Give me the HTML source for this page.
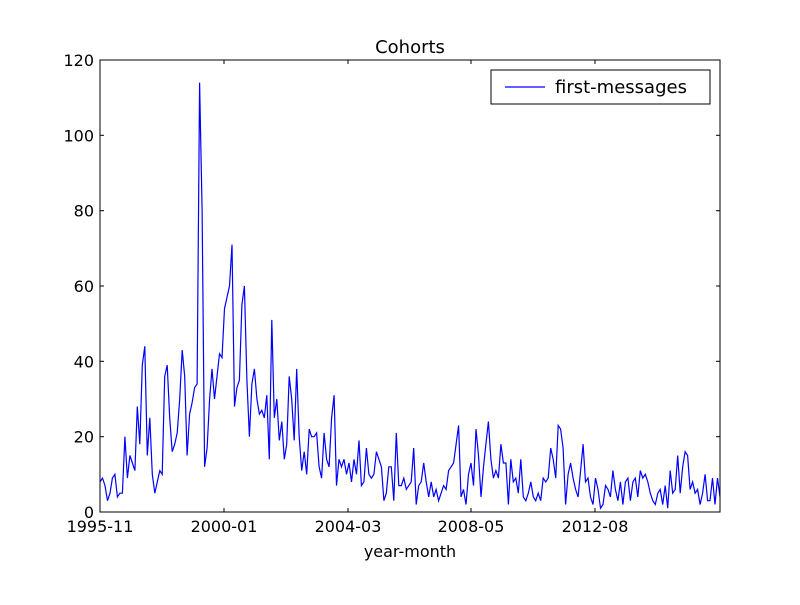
<!DOCTYPE html>
<html><head><meta charset="utf-8"><style>
body{margin:0;background:#fff}
svg text{font-family:"DejaVu Sans","Liberation Sans",sans-serif;fill:#000}
</style></head><body>
<svg id="s" width="800" height="600" xmlns="http://www.w3.org/2000/svg">
<rect x="0" y="0" width="800" height="600" fill="#fff"/>
<polyline id="p" fill="none" stroke="#0000ff" stroke-width="1.2" points=""/>
<rect x="100" y="60" width="620" height="452" fill="none" stroke="#000" stroke-width="1"/>
<g stroke="#000" stroke-width="1">
<line x1="100" y1="512" x2="104" y2="512"/><line x1="716" y1="512" x2="720" y2="512"/>
<line x1="100" y1="436.7" x2="104" y2="436.7"/><line x1="716" y1="436.7" x2="720" y2="436.7"/>
<line x1="100" y1="361.3" x2="104" y2="361.3"/><line x1="716" y1="361.3" x2="720" y2="361.3"/>
<line x1="100" y1="286" x2="104" y2="286"/><line x1="716" y1="286" x2="720" y2="286"/>
<line x1="100" y1="210.7" x2="104" y2="210.7"/><line x1="716" y1="210.7" x2="720" y2="210.7"/>
<line x1="100" y1="135.3" x2="104" y2="135.3"/><line x1="716" y1="135.3" x2="720" y2="135.3"/>
<line x1="224" y1="512" x2="224" y2="508"/><line x1="224" y1="60" x2="224" y2="64"/>
<line x1="348" y1="512" x2="348" y2="508"/><line x1="348" y1="60" x2="348" y2="64"/>
<line x1="471" y1="512" x2="471" y2="508"/><line x1="471" y1="60" x2="471" y2="64"/>
<line x1="595" y1="512" x2="595" y2="508"/><line x1="595" y1="60" x2="595" y2="64"/>
</g>
<g font-size="16" text-anchor="end">
<text x="94" y="518">0</text><text x="94" y="442.7">20</text><text x="94" y="367.3">40</text>
<text x="94" y="292">60</text><text x="94" y="216.7">80</text><text x="94" y="141.3">100</text><text x="94" y="66">120</text>
</g>
<g font-size="16" text-anchor="middle">
<text x="100" y="532">1995-11</text><text x="224" y="532">2000-01</text><text x="348" y="532">2004-03</text>
<text x="471" y="532">2008-05</text><text x="595" y="532">2012-08</text>
<text x="410" y="557">year-month</text>
</g>
<text x="410" y="53" font-size="18" text-anchor="middle">Cohorts</text>
<rect x="491" y="70" width="219" height="34" fill="#fff" stroke="#000"/>
<line x1="505" y1="87" x2="545" y2="87" stroke="#0000ff" stroke-width="1.2"/>
<text x="555" y="93" font-size="18">first-messages</text>
</svg>
<script>
var v=[8,9,7,3,5,9,10,4,5,5,20,9,15,13,11,28,18,39,44,15,25,10,5,8,11,10,36,39,25,16,18,21,30,43,36,15,26,29,33,34,114,80,12,17,30,38,30,36,42,41,54,57,60,71,28,33,35,55,60,35,20,34,38,30,26,27,25,31,14,51,25,30,19,24,14,18,36,30,19,38,20,11,16,10,22,20,20,21,12,9,21,14,12,25,31,7,14,12,14,10,13,8,14,10,19,7,8,17,10,9,10,16,14,12,3,5,12,12,3,21,7,7,9,6,7,8,17,2,7,8,13,8,4,8,4,6,3,5,7,6,11,12,13,18,23,4,6,2,10,13,7,22,15,4,12,18,24,14,9,11,9,18,13,13,2,14,8,9,5,14,4,3,5,8,4,3,5,3,9,8,9,17,14,9,23,22,17,2,10,13,9,6,4,11,18,8,9,4,2,9,6,1,2,7,6,4,11,6,3,8,2,8,9,3,8,9,4,11,9,10,8,5,3,2,5,6,2,7,1,11,5,6,15,5,12,16,15,6,8,5,6,2,5,10,3,3,9,2,9,4];
var n=v.length,pts=[];
for(var i=0;i<n;i++){pts.push((100+620*i/(n-1)).toFixed(1)+","+(512-v[i]*452/120).toFixed(1));}
document.getElementById("p").setAttribute("points",pts.join(" "));
</script>
</body></html>
